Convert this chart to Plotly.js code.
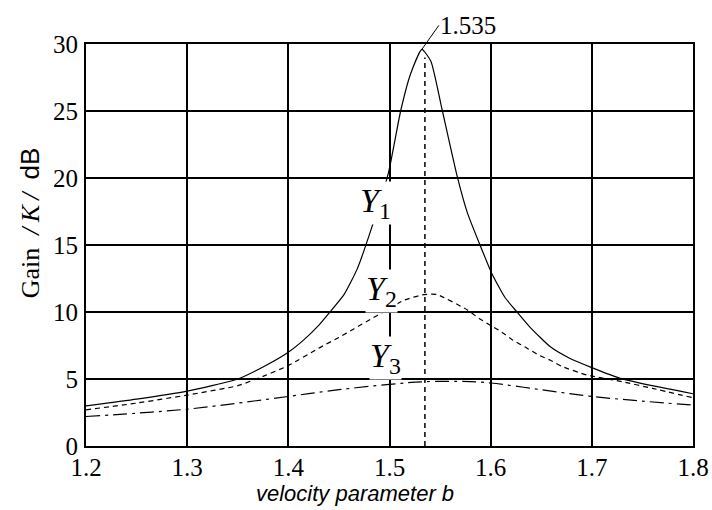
<!DOCTYPE html>
<html><head><meta charset="utf-8">
<script src="https://cdn.plot.ly/plotly-3.0.1.min.js"></script>
<style>html,body{margin:0;padding:0;background:#fff;}#chart{width:712px;height:510px;}</style>
</head><body><div id="chart"></div>
<script>
// Y1 (solid)
const bY1 = [1.20,1.25,1.30,1.35,1.375,1.40,1.415,1.43,1.44,1.455,1.468,1.482,1.499,1.511,1.521,1.532,1.541,1.552,1.567,1.577,1.59,1.601,1.614,1.626,1.639,1.659,1.678,1.70,1.728,1.76,1.80];
const gY1 = [3.0,3.5,4.1,5.0,5.9,7.0,7.9,9.0,9.9,11.3,13.2,16.2,20.4,25.0,27.8,29.6,28.7,25.1,20.1,17.4,14.9,12.9,11.1,10.0,8.85,7.4,6.55,5.85,5.05,4.5,3.9];
// Y2 (dashed)
const bY2 = [1.20,1.25,1.30,1.35,1.375,1.40,1.43,1.45,1.465,1.481,1.494,1.515,1.534,1.547,1.577,1.589,1.60,1.611,1.622,1.636,1.647,1.659,1.67,1.695,1.73,1.76,1.80];
const gY2 = [2.7,3.2,3.8,4.5,5.2,6.0,7.3,8.1,8.75,9.45,10.0,10.9,11.3,11.3,10.15,9.5,9.0,8.5,7.9,7.3,6.8,6.4,5.95,5.3,4.8,4.3,3.6];
// Y3 (dash-dot)
const bY3 = [1.20,1.25,1.30,1.35,1.40,1.45,1.50,1.535,1.58,1.60,1.65,1.70,1.75,1.80];
const gY3 = [2.2,2.45,2.75,3.2,3.7,4.2,4.6,4.8,4.8,4.7,4.2,3.7,3.35,3.05];
const peakB = 1.535;
const peakLabel = "1.535";
const xTicks = [1.2,1.3,1.4,1.5,1.6,1.7,1.8];
const xTickText = ["1.2","1.3","1.4","1.5","1.6","1.7","1.8"];
const yTicks = [0,5,10,15,20,25,30];

const serif = "Liberation Serif, Times New Roman, serif";
const sans = "Liberation Sans, Arial, sans-serif";

const traces = [
  {x:bY1, y:gY1, mode:'lines', line:{color:'#000', width:1.2, shape:'spline', smoothing:0.5}},
  {x:bY2, y:gY2, mode:'lines', line:{color:'#000', width:1.2, dash:'5px,4px', shape:'spline', smoothing:0.5}},
  {x:bY3, y:gY3, mode:'lines', line:{color:'#000', width:1.2, dash:'14px,5px,3px,5px', shape:'spline', smoothing:1}}
];

const ymax1 = Math.max(...gY1);
const ipk = gY1.indexOf(ymax1);

const layout = {
  width:712, height:510,
  margin:{l:86, r:19, t:44, b:64},
  paper_bgcolor:'#fff', plot_bgcolor:'#fff',
  showlegend:false,
  xaxis:{range:[1.2,1.8], tickvals:xTicks, ticktext:xTickText, showgrid:true, gridcolor:'#000', gridwidth:2,
    zeroline:false, showline:true, mirror:true, linecolor:'#000', linewidth:2, ticks:'',
    tickfont:{family:serif, size:25, color:'#000'}, ticklabelstandoff:-2},
  yaxis:{range:[0,30], tickvals:yTicks, showgrid:true, gridcolor:'#000', gridwidth:2,
    zeroline:false, showline:true, mirror:true, linecolor:'#000', linewidth:2, ticks:'',
    tickfont:{family:serif, size:25, color:'#000'}, ticklabelstandoff:1},
  shapes:[
    {type:'line', xref:'x', yref:'y', x0:peakB, x1:peakB, y0:0, y1:29, line:{color:'#000', width:1.5, dash:'5px,4px'}}
  ],
  annotations:[
    {x:bY1[ipk], y:ymax1, xref:'x', yref:'y', text:peakLabel, showarrow:true, arrowhead:0, arrowwidth:1, arrowcolor:'#000',
      ax:17, ay:-24, xanchor:'left', yanchor:'middle', font:{family:serif, size:25, color:'#000'}, borderpad:0},
    {x:1.4857, y:18.1, xref:'x', yref:'y', text:'<i>Y</i><sub>1</sub>', showarrow:false, bgcolor:'#fff', borderpad:0,
      font:{family:serif, size:34, color:'#000'}},
    {x:1.4916, y:11.6, xref:'x', yref:'y', text:'<i>Y</i><sub>2</sub>', showarrow:false, bgcolor:'#fff', borderpad:0,
      font:{family:serif, size:34, color:'#000'}},
    {x:1.4965, y:6.6, xref:'x', yref:'y', text:'<i>Y</i><sub>3</sub>', showarrow:false, bgcolor:'#fff', borderpad:0,
      font:{family:serif, size:34, color:'#000'}},
    {x:-0.091, y:0.556, xref:'paper', yref:'paper', xanchor:'center', yanchor:'middle', textangle:-90, showarrow:false,
      text:'Gain&nbsp;&nbsp;<i>/&#8201;K&#8201;/</i>&nbsp;&nbsp;<span style="font-family:Liberation Sans">dB</span>',
      font:{family:serif, size:26, color:'#000'}},
    {x:0.443, y:-0.119, xref:'paper', yref:'paper', xanchor:'center', yanchor:'middle', showarrow:false, text:'<i>velocity parameter b</i>',
      font:{family:sans, size:22, color:'#000'}}
  ]
};
Plotly.newPlot('chart', traces, layout, {staticPlot:true});
</script></body></html>
